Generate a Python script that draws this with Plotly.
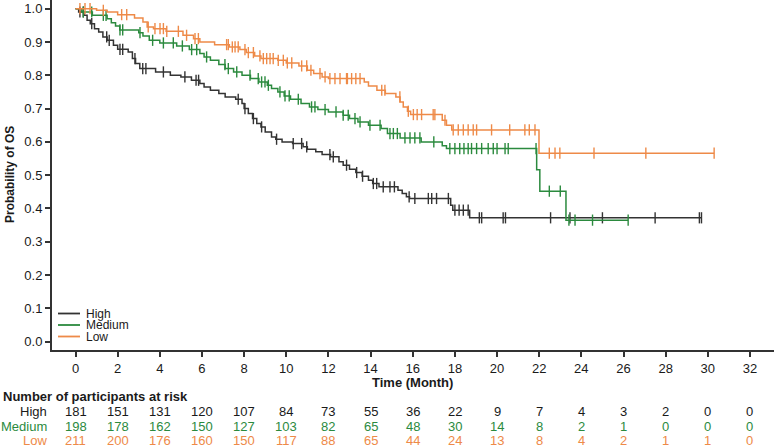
import numpy as np
import plotly.graph_objects as go

# ---------------- data ----------------
groups = ["High", "Medium", "Low"]
colors = ["#333333", "#2b8a3e", "#ee8a48"]

high_t = [0, 0.15, 0.4, 0.55, 0.7, 0.9, 1.1, 1.3, 1.5, 1.8, 2.0, 2.5, 2.7, 2.85, 3.05, 3.8, 4.5, 5.0, 5.5, 5.9,
          6.1, 6.4, 6.8, 7.1, 7.6, 7.9, 8.0, 8.2, 8.4, 8.6, 8.8, 9.0, 9.3, 9.5, 9.8, 10.3, 10.8, 11.0, 11.4, 11.7,
          12.1, 12.5, 12.7, 13.0, 13.3, 13.6, 13.9, 14.1, 14.4, 15.3, 15.5, 15.7, 15.85, 17.8, 17.9, 18.7]
high_s = [1.0, 0.99, 0.98, 0.965, 0.955, 0.94, 0.93, 0.915, 0.905, 0.89, 0.878, 0.87, 0.85, 0.835, 0.82, 0.81, 0.80,
          0.795, 0.785, 0.775, 0.765, 0.755, 0.745, 0.735, 0.728, 0.715, 0.70, 0.685, 0.67, 0.655, 0.645, 0.63, 0.615,
          0.608, 0.60, 0.595, 0.585, 0.578, 0.57, 0.562, 0.555, 0.54, 0.53, 0.518, 0.508, 0.497, 0.485, 0.475, 0.465,
          0.455, 0.445, 0.435, 0.43, 0.41, 0.395, 0.372]
high_cens = [0.21, 0.37, 0.77, 1.48, 1.6, 2.11, 2.24, 2.82, 3.19, 3.34, 4.17, 5.19, 5.72, 5.84, 7.72, 8.04, 8.44,
             8.83, 9.54, 10.33, 10.73, 10.97, 12.07, 12.23, 12.86, 13.34, 13.62, 14.13, 14.29, 14.6, 14.92, 15.13,
             15.83, 16.1, 16.74, 16.9, 17.13, 17.69, 18.0, 18.2, 18.4, 18.63, 19.16, 19.27, 20.29, 20.4, 22.54, 23.46,
             25.0, 27.5, 29.6, 29.7]

med_t = [0, 0.3, 0.8, 1.5, 1.7, 1.9, 2.1, 3.0, 3.2, 3.5, 4.0, 4.8, 5.4, 5.9, 6.1, 6.4, 6.8, 7.1, 7.5, 7.9, 8.3, 8.7,
         9.1, 9.3, 9.6, 9.9, 10.2, 10.7, 11.1, 11.5, 12.0, 12.7, 13.0, 13.4, 13.9, 14.5, 14.8, 15.4, 16.4, 17.4,
         17.6, 21.88, 22.03, 23.27]
med_s = [1.0, 0.99, 0.98, 0.97, 0.958, 0.948, 0.936, 0.928, 0.918, 0.905, 0.897, 0.888, 0.877, 0.865, 0.855, 0.845,
         0.832, 0.82, 0.81, 0.80, 0.79, 0.78, 0.77, 0.76, 0.75, 0.738, 0.728, 0.715, 0.705, 0.697, 0.69, 0.68, 0.67,
         0.66, 0.65, 0.64, 0.625, 0.612, 0.60, 0.588, 0.58, 0.516, 0.452, 0.365]
med_cens = [0.37, 0.77, 1.32, 1.45, 2.11, 2.24, 3.06, 3.66, 4.17, 4.64, 5.07, 5.51, 5.75, 6.22, 7.09, 7.25, 7.65,
            8.28, 8.67, 8.83, 8.99, 9.15, 9.7, 9.94, 10.14, 10.57, 11.2, 11.36, 11.84, 12.36, 12.7, 12.94, 13.26,
            13.5, 13.97, 14.45, 14.92, 15.08, 15.27, 15.63, 15.87, 16.1, 16.34, 17.0, 17.76, 18.0, 18.23, 18.43,
            18.63, 18.79, 19.03, 19.27, 19.58, 19.82, 20.0, 20.38, 20.53, 21.85, 22.48, 23.0, 23.41, 23.7, 24.53,
            26.22]

low_t = [0, 1.0, 1.5, 2.0, 2.8, 3.2, 3.4, 3.7, 4.3, 5.1, 5.6, 5.9, 6.6, 7.3, 7.8, 8.1, 8.5, 8.8, 9.6, 10.0, 10.6,
         11.0, 11.3, 11.7, 12.0, 13.7, 13.9, 14.3, 14.7, 15.2, 15.4, 15.55, 15.75, 15.9, 17.4, 17.6, 17.85, 21.99]
low_s = [1.0, 0.995, 0.99, 0.982, 0.972, 0.96, 0.945, 0.94, 0.932, 0.92, 0.91, 0.90, 0.892, 0.885, 0.877, 0.868,
         0.858, 0.85, 0.845, 0.837, 0.828, 0.815, 0.805, 0.795, 0.79, 0.78, 0.768, 0.755, 0.745, 0.735, 0.72, 0.705,
         0.692, 0.682, 0.665, 0.65, 0.636, 0.566]
low_cens = [0.21, 0.45, 0.69, 1.32, 2.19, 2.43, 3.45, 3.77, 4.01, 4.17, 4.33, 4.88, 5.27, 5.67, 5.83, 7.17, 7.25,
            7.44, 7.57, 7.72, 8.04, 8.2, 8.44, 8.75, 8.91, 9.07, 9.23, 9.38, 9.62, 9.86, 10.05, 10.26, 10.73, 10.97,
            11.17, 11.6, 11.84, 12.07, 12.31, 12.55, 12.86, 12.9, 13.1, 13.3, 13.5, 14.53, 14.68, 15.39, 15.79,
            16.03, 16.21, 16.42, 16.97, 17.05, 17.53, 17.92, 18.16, 18.4, 18.63, 18.87, 19.03, 19.74, 20.6, 21.32,
            21.53, 21.8, 22.48, 22.75, 22.98, 24.6, 27.06, 30.3]

risk_times = list(range(0, 34, 2))
risk_high = [181, 151, 131, 120, 107, 84, 73, 55, 36, 22, 9, 7, 4, 3, 2, 0, 0]
risk_med = [198, 178, 162, 150, 127, 103, 82, 65, 48, 30, 14, 8, 2, 1, 0, 0, 0]
risk_low = [211, 200, 176, 160, 150, 117, 88, 65, 44, 24, 13, 8, 4, 2, 1, 1, 0]

y_ticks = [round(0.1 * i, 1) for i in range(11)]
x_ticks = list(range(0, 34, 2))

# ---------------- figure ----------------
FONT = "Liberation Sans, Arial, sans-serif"
W, H = 776, 448
ML, MR, MT, MB = 52, 2, 0, 98
PW, PH = W - ML - MR, H - MT - MB

def px_x(px):
    return (px - ML) / PW

def px_y(py):
    return (MT + PH - py) / PH

fig = go.Figure()
series = [(high_t, high_s, high_cens), (med_t, med_s, med_cens), (low_t, low_s, low_cens)]
for name, col, (t, s, c) in zip(groups, colors, series):
    t = np.array(t, float); s = np.array(s, float); c = np.array(c, float)
    end = max(c.max(), t.max())
    xs = np.append(t, end)
    ys = np.append(s, s[-1])
    fig.add_trace(go.Scatter(x=xs, y=ys, mode="lines", line=dict(color=col, width=1.5, shape="hv"),
                             name=name, showlegend=False, hoverinfo="skip"))
    idx = np.searchsorted(t, c, side="right") - 1
    fig.add_trace(go.Scatter(x=c, y=s[idx], mode="markers", name=name + " censored", showlegend=False,
                             marker=dict(symbol="line-ns-open", size=8, color=col,
                                         line=dict(color=col, width=1.4))))

fig.update_layout(
    width=W, height=H, margin=dict(l=ML, r=MR, t=MT, b=MB),
    paper_bgcolor="white", plot_bgcolor="white",
    font=dict(family=FONT, size=13, color="#1a1a1a"),
    xaxis=dict(range=[-1.115, 33.14], tickvals=x_ticks, ticks="outside", ticklen=5, tickwidth=1.5,
               tickcolor="#333", showline=True, linewidth=2, linecolor="#333", showgrid=False, zeroline=False,
               tickfont=dict(size=13, color="#1a1a1a")),
    yaxis=dict(range=[-0.0249, 1.026], tickvals=y_ticks, tickformat=".1f", ticks="outside", ticklen=5,
               tickwidth=1.5, tickcolor="#333", showline=True, linewidth=2, linecolor="#333", showgrid=False,
               zeroline=False, tickfont=dict(size=13, color="#1a1a1a")),
)

ann = []
ann.append(dict(text="<b>Time (Month)</b>", x=px_x(412), y=px_y(382), xref="paper", yref="paper",
                showarrow=False, xanchor="center", yanchor="middle", font=dict(size=13, color="#1a1a1a")))
ann.append(dict(text="<b>Probability of OS</b>", x=px_x(10), y=px_y(175), xref="paper", yref="paper",
                showarrow=False, textangle=-90, xanchor="center", yanchor="middle",
                font=dict(size=12, color="#1a1a1a")))
ann.append(dict(text="<b>Number of participants at risk</b>", x=px_x(1), y=px_y(396), xref="paper", yref="paper",
                showarrow=False, xanchor="left", yanchor="middle", font=dict(size=13, color="#1a1a1a")))
row_y = [412, 426.5, 440]
for name, col, vals, ry in zip(groups, colors, [risk_high, risk_med, risk_low], row_y):
    label_col = "#1a1a1a" if name == "High" else col
    ann.append(dict(text=name, x=px_x(49), y=px_y(ry), xref="paper", yref="paper", showarrow=False,
                    xanchor="right", yanchor="middle", font=dict(size=13, color=label_col)))
    for tt, v in zip(risk_times, vals):
        ann.append(dict(text=str(v), x=tt, y=px_y(ry), xref="x", yref="paper", showarrow=False,
                        xanchor="center", yanchor="middle", font=dict(size=13, color=label_col)))

# manual legend (tightly stacked as in the reference)
leg_y = [313.5, 325, 336.5]
shapes = []
for name, col, ly in zip(groups, colors, leg_y):
    shapes.append(dict(type="line", xref="paper", yref="paper", x0=px_x(58), x1=px_x(80), y0=px_y(ly),
                       y1=px_y(ly), line=dict(color=col, width=1.8)))
    ann.append(dict(text=name, x=px_x(84), y=px_y(ly), xref="paper", yref="paper", showarrow=False,
                    xanchor="left", yanchor="middle", font=dict(size=12, color="#1a1a1a")))

fig.update_layout(annotations=ann, shapes=shapes)
fig.write_html("out.html")
